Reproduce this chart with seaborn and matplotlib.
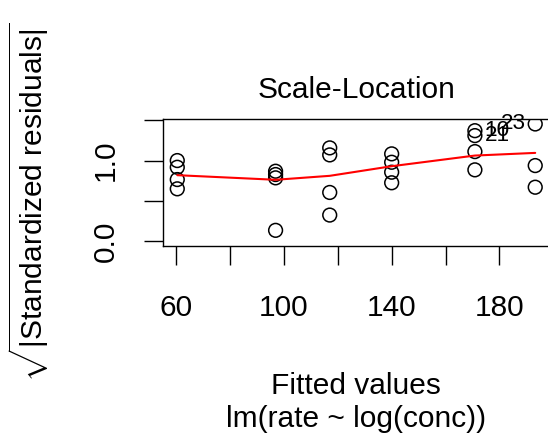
import matplotlib
matplotlib.use("Agg")
import matplotlib.pyplot as plt
import seaborn as sns
import pandas as pd

# Scale-Location diagnostic for lm(rate ~ log(conc)), 23 observations
fitted = [60.4, 60.4, 96.9, 96.9, 117.0, 117.0, 140.0, 140.0, 170.9, 170.9, 193.3, 193.3,
          60.4, 60.4, 96.9, 96.9, 117.0, 117.0, 140.0, 140.0, 170.9, 170.9, 193.3]
root_std_resid = [1.000, 0.917, 0.136, 0.786, 0.605, 1.157, 1.083, 0.856, 1.111, 1.370, 0.938, 0.670,
                  0.650, 0.765, 0.868, 0.827, 1.070, 0.325, 0.725, 0.979, 1.309, 0.885, 1.453]
obs_id = list(range(1, 24))

# red smoother
smooth_x = [60.4, 96.9, 117.0, 140.0, 170.9, 193.3]
smooth_y = [0.819, 0.762, 0.811, 0.930, 1.062, 1.095]

labelled = [10, 21, 23]
label_side = {10: "right", 21: "right", 23: "left"}

x_ticks = [60, 80, 100, 120, 140, 160, 180]
x_ticklabels = ["60", "", "100", "", "140", "", "180"]
y_ticks = [0.0, 0.5, 1.0, 1.5]
y_ticklabels = ["0.0", "", "1.0", ""]

df = pd.DataFrame({"fitted": fitted, "rsr": root_std_resid, "id": obs_id})
smooth = pd.DataFrame({"x": smooth_x, "y": smooth_y})

sns.set_style("white")
plt.rcParams["font.family"] = ["Liberation Sans", "DejaVu Sans"]
plt.rcParams["mathtext.fontset"] = "custom"
plt.rcParams["mathtext.rm"] = "Liberation Sans"
plt.rcParams["mathtext.it"] = "Liberation Sans:italic"
plt.rcParams["text.color"] = "black"
plt.rcParams["axes.labelcolor"] = "black"
plt.rcParams["xtick.color"] = "black"
plt.rcParams["ytick.color"] = "black"

fs = 21.5
fig = plt.figure(figsize=(5.48, 4.4), dpi=100)
ax = fig.add_axes([163 / 548, (440 - 246) / 440, (549.5 - 163) / 548, (246 - 119.3) / 440])

sns.scatterplot(data=df, x="fitted", y="rsr", ax=ax, marker="o", s=98,
                facecolor="none", edgecolor="black", linewidth=1.1, legend=False)
sns.lineplot(data=smooth, x="x", y="y", ax=ax, color="red", linewidth=1.5,
             estimator=None, sort=False)

for i in labelled:
    row = df[df["id"] == i].iloc[0]
    dx = 7 if label_side[i] == "right" else -7
    ax.annotate(str(i), (row["fitted"], row["rsr"]), xytext=(dx, 0),
                textcoords="offset points", ha="left" if dx > 0 else "right",
                va="center", fontsize=16.2, color="black", annotation_clip=False)

ax.set_xlim(55.1, 198.6)
ax.set_ylim(-0.058, 1.511)
ax.set_xticks(x_ticks)
ax.set_xticklabels(x_ticklabels, fontsize=fs, color="black")
ax.set_yticks(y_ticks)
ax.set_yticklabels(y_ticklabels, fontsize=fs, rotation=90, va="center", color="black")
ax.tick_params(axis="both", direction="out", length=14, width=1.0, color="black",
               bottom=True, left=True, top=False, right=False)
ax.tick_params(axis="x", pad=20.5)
ax.tick_params(axis="y", pad=17)

for sp in ax.spines.values():
    sp.set_visible(True)
    sp.set_color("black")
    sp.set_linewidth(1.0)

ax.set_title("Scale-Location", fontsize=fs, pad=15, color="black")
ax.set_xlabel("Fitted values\nlm(rate ~ log(conc))", fontsize=fs, labelpad=36,
              linespacing=1.25, color="black")
ax.set_ylabel(r"$\sqrt{|\mathrm{Standardized\ residuals}|}$", fontsize=fs, color="black")
ax.yaxis.set_label_coords(-0.29, 0.35)

fig.savefig("out.png", dpi=100)
